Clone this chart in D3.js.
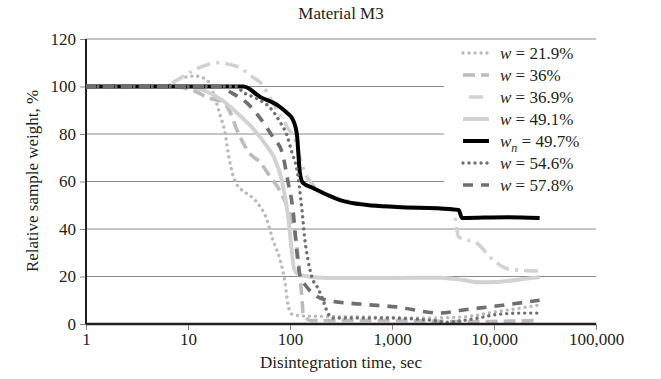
<!DOCTYPE html>
<html>
<head>
<meta charset="utf-8">
<script src="https://cdn.jsdelivr.net/npm/d3@7"></script>
<style>
  body { margin: 0; background: #fff; }
  text { font-family: "Liberation Serif", "DejaVu Serif", serif; fill: #231f20; }
</style>
</head>
<body>
<div id="chart"></div>
<script>
// tick values
var xTicks = [1, 10, 100, 1000, 10000, 100000];
var yTicks = [0, 20, 40, 60, 80, 100, 120];

// series data: time (sec) and relative weight (%)
var t219 = [1, 6, 8, 11.7, 15.3, 18, 20.6, 23, 25, 27.6, 30.3, 36, 47, 59.5, 68, 80, 89.5, 95.6, 104, 134, 500, 2000, 5000, 10000, 20000, 28000];
var w219 = [100, 100, 103, 104.4, 102.7, 96.4, 88, 80.8, 71, 62.7, 58.5, 55.6, 51.4, 43.8, 35.4, 27, 17.3, 8, 4.2, 3.4, 3, 2.5, 3, 5, 7, 8];

var t360 = [1, 6.7, 11, 16.4, 22, 26, 30, 35, 40, 51, 64, 80, 96, 112, 120, 125, 131, 134, 157, 1000, 5000, 28000];
var w360 = [100, 100, 98.5, 95, 93.5, 89, 82, 76, 72, 68, 62, 56, 48, 38, 28, 20, 11, 5, 1.5, 1.5, 1, 1.5];

var t369 = [1, 6, 8, 11, 15, 19, 30, 43, 53, 66, 80, 95, 112, 125, 140, 176, 250, 400, 1000, 2000, 4000, 4500, 6800, 9800, 14400, 28000];
var w369 = [100, 100, 103, 106.5, 109, 110, 108.5, 104, 101, 94, 88, 82.5, 77.5, 70, 63.6, 57.7, 54, 51.5, 49.5, 48.8, 48, 36.6, 34, 27, 23, 22.3];

var t491 = [1, 10, 15, 22, 30, 43, 59, 70, 83, 96, 104, 110, 125, 230, 1000, 3000, 5000, 7000, 10000, 20000, 28000];
var w491 = [100, 100, 98, 94, 89, 82.5, 75, 70, 60.6, 45, 31, 23, 20.5, 19.4, 19.4, 19.5, 18.5, 17.6, 17.7, 19, 19.8];

var t497 = [1, 35, 51, 75, 94, 107, 117, 125, 134, 168, 211, 309, 569, 1120, 3700, 4500, 4860, 13400, 28000];
var w497 = [100, 100, 95.6, 92.2, 88.8, 85.9, 79.6, 63.6, 59.4, 57.3, 55.2, 52.2, 50.1, 49.3, 48.4, 48, 44.6, 45, 44.6];

var t546 = [1, 30, 34.6, 47, 64, 80, 93, 104, 117, 131, 140, 150, 168, 185, 211, 235, 265, 1000, 2500, 3500, 5000, 7000, 10600, 19000, 27000];
var w546 = [100, 100, 97.6, 95, 91, 85, 79.6, 72.4, 64.8, 48, 35.4, 27, 18.5, 15.6, 10, 4.6, 2.5, 2.5, 1.5, 0.8, 1.5, 2.5, 4, 4.6, 4.6];

var t578 = [1, 20, 24, 27.6, 38, 51, 68, 84, 96, 107, 117, 125, 146, 176, 230, 486, 1100, 2950, 5000, 10600, 28000];
var w578 = [100, 100, 98.5, 97, 93, 86.7, 78.7, 72, 59.4, 48, 30, 20.6, 15.6, 12.2, 10, 8.4, 7.2, 4.6, 5.9, 7.6, 10];

var labels = ["21.9%", "36%", "36.9%", "49.1%", "49.7%", "54.6%", "57.8%"];

var series = [
  {t: t219, w: w219, color: "#b9b9b9", width: 3.4, dash: "0.01 6", cap: "round"},
  {t: t360, w: w360, color: "#bcbcbc", width: 3.6, dash: "12 6", cap: "butt"},
  {t: t369, w: w369, color: "#d2d2d2", width: 3.6, dash: "14 6 3 6", cap: "butt"},
  {t: t491, w: w491, color: "#d2d2d2", width: 4, dash: null, cap: "butt"},
  {t: t497, w: w497, color: "#000000", width: 4, dash: null, cap: "butt"},
  {t: t546, w: w546, color: "#6f6f6f", width: 3.4, dash: "0.01 6", cap: "round"},
  {t: t578, w: w578, color: "#6f6f6f", width: 3.6, dash: "10 8", cap: "butt"}
];

var svgWidth = 661;
var svgHeight = 379;
var margin = {top: 39, right: 65, bottom: 55, left: 86};
var width = svgWidth - margin.left - margin.right;
var height = svgHeight - margin.top - margin.bottom;

var svg = d3.select("#chart")
    .append("svg")
    .attr("width", svgWidth)
    .attr("height", svgHeight);

var chartGroup = svg.append("g")
    .attr("transform", `translate(${margin.left}, ${margin.top})`);

var x = d3.scaleLog().domain([1, 100000]).range([0, width]);
var y = d3.scaleLinear().domain([0, 120]).range([height, 0]);

// gridlines
chartGroup.selectAll(".grid")
    .data(yTicks.filter(d => d > 0))
    .enter()
    .append("line")
    .attr("x1", 0)
    .attr("x2", width)
    .attr("y1", d => y(d))
    .attr("y2", d => y(d))
    .attr("stroke", "#8a8a8a")
    .attr("stroke-width", 1);

// y axis
var leftAxis = d3.axisLeft(y).tickValues(yTicks).tickSize(6).tickPadding(4);
var gy = chartGroup.append("g").call(leftAxis);
gy.select(".domain").remove();
gy.selectAll(".tick line").attr("stroke", "#8a8a8a");
gy.selectAll("text").style("font-size", "17px").attr("fill", "#231f20");
chartGroup.append("line")
    .attr("x1", 0).attr("x2", 0)
    .attr("y1", 0).attr("y2", height)
    .attr("stroke", "#231f20")
    .attr("stroke-width", 2);

// lines
svg.append("clipPath").attr("id", "clip")
    .append("rect").attr("x", 0).attr("y", -2).attr("width", width).attr("height", height + 2);

var line = d3.line()
    .x(d => x(d[0]))
    .y(d => y(d[1]))
    .curve(d3.curveMonotoneX);

var linesGroup = chartGroup.append("g").attr("clip-path", "url(#clip)");
series.forEach(function(s) {
    var pts = s.t.map((v, i) => [v, s.w[i]]);
    linesGroup.append("path")
        .datum(pts)
        .attr("d", line)
        .attr("fill", "none")
        .attr("stroke", s.color)
        .attr("stroke-width", s.width)
        .attr("stroke-dasharray", s.dash)
        .attr("stroke-linecap", s.cap)
        .attr("stroke-linejoin", "round");
});

// x axis
var bottomAxis = d3.axisBottom(x).tickValues(xTicks).tickFormat(d3.format(",")).tickSize(6).tickPadding(3);
var gx = chartGroup.append("g")
    .attr("transform", `translate(0, ${height})`)
    .call(bottomAxis);
gx.select(".domain").remove();
gx.selectAll(".tick line").attr("stroke", "#8a8a8a");
gx.selectAll("text").style("font-size", "17px").attr("fill", "#231f20");
chartGroup.append("line")
    .attr("x1", 0).attr("x2", width)
    .attr("y1", height).attr("y2", height)
    .attr("stroke", "#231f20")
    .attr("stroke-width", 2.5);

// legend
var legend = svg.append("g");
legend.append("rect")
    .attr("x", 444).attr("y", 40)
    .attr("width", 190).attr("height", 155)
    .attr("fill", "#fff");
series.forEach(function(s, i) {
    var ly = 53 + i * 22;
    legend.append("line")
        .attr("x1", 463).attr("x2", 489)
        .attr("y1", ly).attr("y2", ly)
        .attr("stroke", s.color)
        .attr("stroke-width", s.width)
        .attr("stroke-dasharray", i === 2 ? "0 6 14 6" : s.dash)
        .attr("stroke-linecap", s.cap);
    var txt = legend.append("text")
        .attr("x", 500).attr("y", ly + 6)
        .style("font-size", "17px");
    txt.append("tspan").style("font-style", "italic").text("w");
    if (i === 4) {
        txt.append("tspan").style("font-style", "italic").style("font-size", "12px").attr("dy", 5).text("n");
        txt.append("tspan").attr("dy", -5).text(" = " + labels[i]);
    } else {
        txt.append("tspan").text(" = " + labels[i]);
    }
});

// titles
svg.append("text")
    .attr("x", 341).attr("y", 19)
    .attr("text-anchor", "middle")
    .style("font-size", "17px")
    .text("Material M3");

svg.append("text")
    .attr("x", margin.left + width / 2).attr("y", 368)
    .attr("text-anchor", "middle")
    .style("font-size", "17px")
    .text("Disintegration time, sec");

svg.append("text")
    .attr("transform", "rotate(-90)")
    .attr("x", -181).attr("y", 38)
    .attr("text-anchor", "middle")
    .style("font-size", "17px")
    .text("Relative sample weight, %");
</script>
</body>
</html>
